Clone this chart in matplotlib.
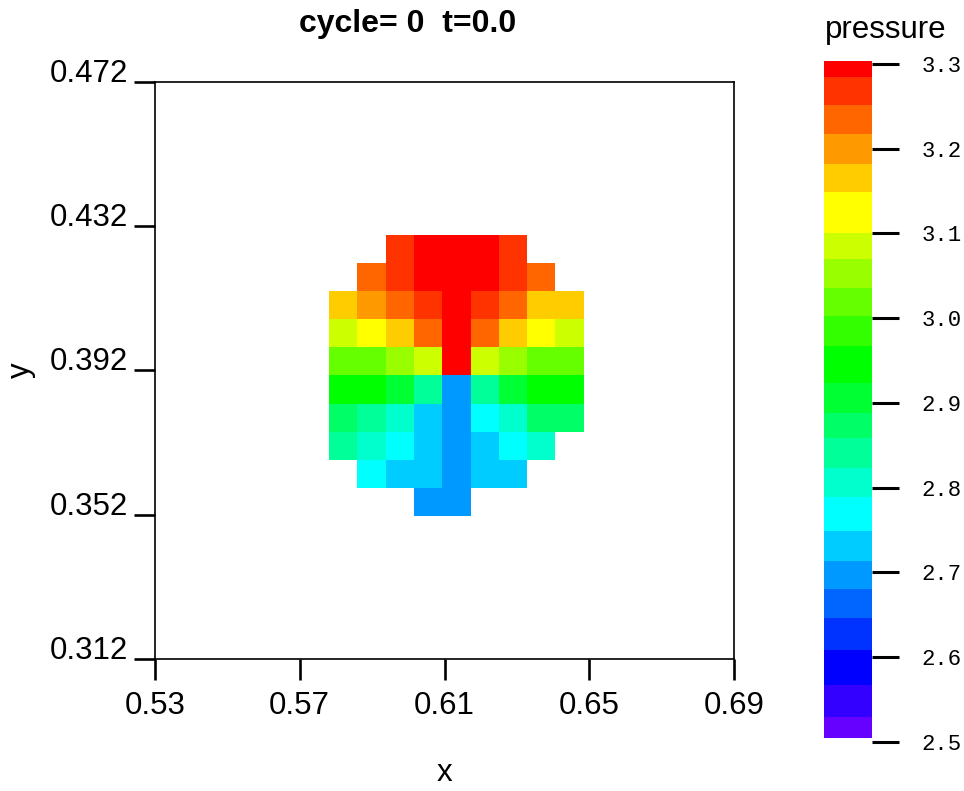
import numpy as np
import matplotlib
matplotlib.use("Agg")
import matplotlib.pyplot as plt
from matplotlib.colors import LinearSegmentedColormap, ListedColormap, Normalize

plt.rcParams['font.family'] = ['Liberation Sans', 'DejaVu Sans']

# mesh: 128 zones per unit length, only the zones near the drop hold values
zones_per_unit = 128
col_start, row_start = 74, 45
nan = np.nan

# pressure per zone, top row first
pressure_rows = [
    [nan,   nan,   3.267, 3.294, 3.294, 3.294, 3.267, nan,   nan],
    [nan,   3.232, 3.267, 3.294, 3.294, 3.294, 3.267, 3.232, nan],
    [3.167, 3.200, 3.232, 3.267, 3.294, 3.267, 3.232, 3.167, 3.167],
    [3.085, 3.126, 3.167, 3.232, 3.294, 3.232, 3.167, 3.126, 3.085],
    [3.019, 3.019, 3.052, 3.085, 3.294, 3.085, 3.052, 3.019, 3.019],
    [2.945, 2.945, 2.907, 2.840, 2.693, 2.840, 2.907, 2.945, 2.945],
    [2.874, 2.840, 2.806, 2.730, 2.693, 2.769, 2.806, 2.874, 2.874],
    [2.840, 2.806, 2.769, 2.730, 2.693, 2.730, 2.769, 2.806, nan],
    [nan,   2.769, 2.730, 2.730, 2.693, 2.730, 2.730, nan,   nan],
    [nan,   nan,   nan,   2.693, 2.693, nan,   nan,   nan,   nan],
]

p_min, p_max = 2.5047, 3.3035
x_ticks = [0.53, 0.57, 0.61, 0.65, 0.69]
y_ticks = [0.312, 0.352, 0.392, 0.432, 0.472]
cbar_ticks = [2.5, 2.6, 2.7, 2.8, 2.9, 3.0, 3.1, 3.2, 3.3]

# hue ramp red -> yellow -> green -> cyan -> blue -> violet
ramp = [
    (2.5047, (112 / 255, 0, 1)),
    (2.5827, (0, 0, 1)), (2.5904, (0, 0, 1)),
    (2.7650, (0, 1, 1)), (2.7729, (0, 1, 1)),
    (2.9400, (0, 1, 0)), (2.9498, (0, 1, 0)),
    (3.1199, (1, 1, 0)), (3.1317, (1, 1, 0)),
    (3.3035, (1, 0, 0)),
]
smooth = LinearSegmentedColormap.from_list(
    "press", [((v - p_min) / (p_max - p_min), c) for v, c in ramp])
# palette limited to 6 levels per channel
samples = smooth(np.linspace(0, 1, 1024))[:, :3]
cmap = ListedColormap(np.round(samples * 5) / 5)
cmap.set_bad((1, 1, 1, 0))
norm = Normalize(p_min, p_max)

pressure = np.ma.masked_invalid(np.array(pressure_rows)[::-1])
n_rows, n_cols = pressure.shape
x_edges = np.arange(col_start, col_start + n_cols + 1) / zones_per_unit
y_edges = np.arange(row_start, row_start + n_rows + 1) / zones_per_unit

W, H = 964, 791
fig = plt.figure(figsize=(W / 100, H / 100), dpi=100)

ax = fig.add_axes([155 / W, 1 - 659 / H, 579 / W, 577 / H])
ax.pcolormesh(x_edges, y_edges, pressure, cmap=cmap, norm=norm)
ax.set_xlim(x_ticks[0], x_ticks[-1])
ax.set_ylim(y_ticks[0], y_ticks[-1])
ax.set_xticks(x_ticks)
ax.set_yticks(y_ticks)
ax.set_xticklabels([f"{v:.2f}" for v in x_ticks])
ax.set_yticklabels([f"{v:.3f}" for v in y_ticks])
ax.tick_params(direction='out', length=15, width=1.9, labelsize=22.5, color='black')
ax.tick_params(axis='x', pad=8)
ax.tick_params(axis='y', pad=4)
plt.setp(ax.get_yticklabels(), va='baseline')
for s in ax.spines.values():
    s.set_linewidth(1.2)
ax.set_xlabel("x", fontsize=22.5, labelpad=27)
ax.set_ylabel("y", fontsize=22.5, labelpad=10)

fig.text(408 / W, 1 - 32 / H, "cycle= 0  t=0.0", ha='center', va='baseline',
         fontsize=23, fontweight='bold')

# legend bar
cax = fig.add_axes([824 / W, 1 - 742.5 / H, 48 / W, 681.5 / H])
levels = np.linspace(p_min, p_max, 600)
cax.pcolormesh([0, 1], levels, levels[:-1, None], cmap=cmap, norm=norm)
cax.set_xlim(0, 1)
cax.set_ylim(2.4994, p_max)
cax.set_xticks([])
cax.yaxis.tick_right()
cax.set_yticks(cbar_ticks)
cax.set_yticklabels([f"{v:.1f}" for v in cbar_ticks], family='Liberation Mono', fontsize=16)
cax.tick_params(axis='y', direction='out', length=19.5, width=2.2, pad=16)
for s in cax.spines.values():
    s.set_visible(False)
fig.text(825 / W, 1 - 38 / H, "pressure", ha='left', va='baseline', fontsize=22.5)

fig.savefig("out.png", dpi=100, facecolor='white')
